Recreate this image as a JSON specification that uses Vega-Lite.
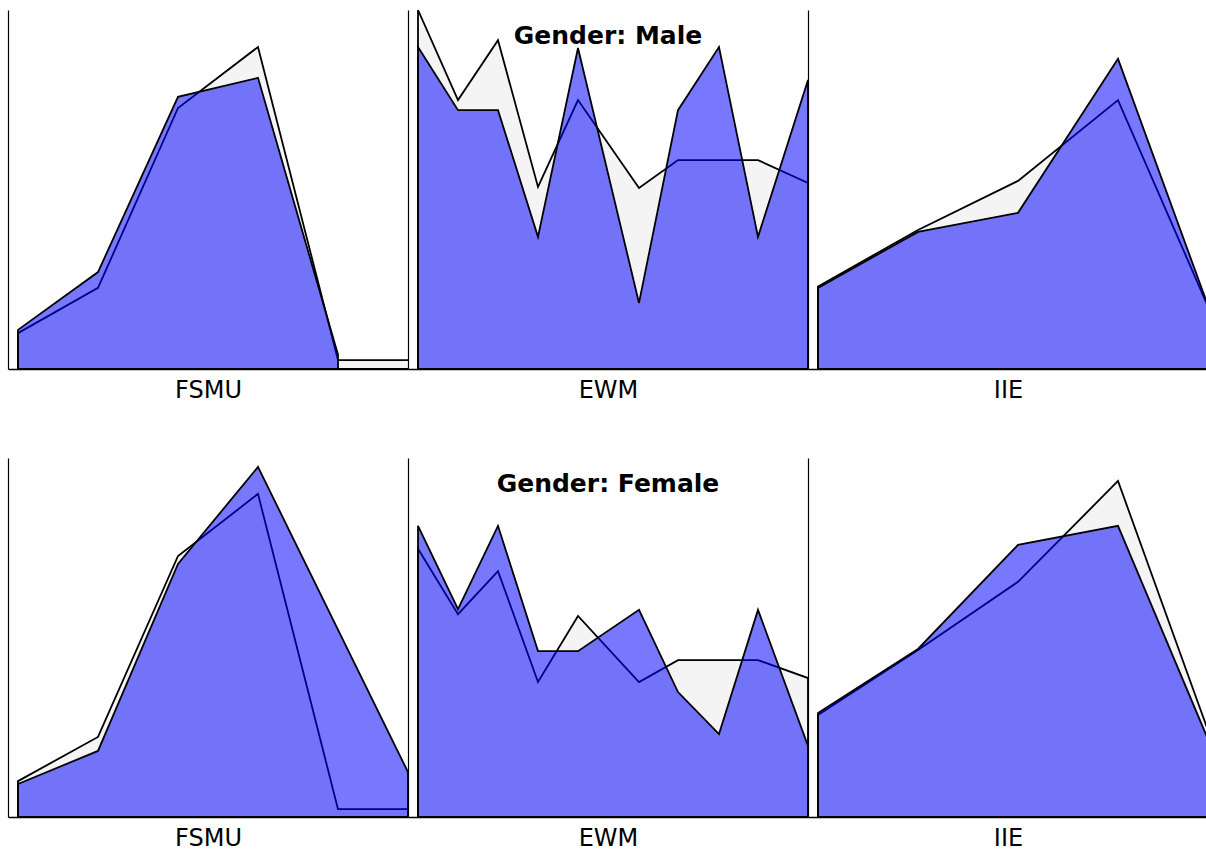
{
  "$schema": "https://vega.github.io/schema/vega-lite/v6.json",
  "background": "white",
  "padding": {"left": 8, "top": 10, "right": 0, "bottom": 0},
  "config": {
    "view": {"stroke": null},
    "font": "DejaVu Sans",
    "axisX": {"domain": true, "domainColor": "#000", "domainWidth": 1.5, "ticks": false, "labels": false, "grid": false, "titleFont": "DejaVu Sans", "titleFontSize": 24, "titleFontWeight": "normal", "titleColor": "#000", "titlePadding": 9},
    "axisY": {"domain": true, "domainColor": "#000", "domainWidth": 1.2, "ticks": false, "labels": false, "grid": false},
    "title": {"font": "DejaVu Sans", "fontSize": 25, "fontWeight": "bold", "color": "#000", "anchor": "middle", "offset": -39, "baseline": "alphabetic"}
  },
  "datasets": {
    "d": [
      {"gender": "Male", "scale": "FSMU", "series": "All", "score": 1, "pct": 10.0},
      {"gender": "Male", "scale": "FSMU", "series": "All", "score": 2, "pct": 22.6},
      {"gender": "Male", "scale": "FSMU", "series": "All", "score": 3, "pct": 72.7},
      {"gender": "Male", "scale": "FSMU", "series": "All", "score": 4, "pct": 89.7},
      {"gender": "Male", "scale": "FSMU", "series": "All", "score": 5, "pct": 2.5},
      {"gender": "Male", "scale": "FSMU", "series": "All", "score": 6, "pct": 2.5},
      {"gender": "Male", "scale": "FSMU", "series": "Group", "score": 1, "pct": 10.9},
      {"gender": "Male", "scale": "FSMU", "series": "Group", "score": 2, "pct": 27.0},
      {"gender": "Male", "scale": "FSMU", "series": "Group", "score": 3, "pct": 75.8},
      {"gender": "Male", "scale": "FSMU", "series": "Group", "score": 4, "pct": 81.1},
      {"gender": "Male", "scale": "FSMU", "series": "Group", "score": 5, "pct": 4.0},

      {"gender": "Male", "scale": "EWM", "series": "All", "score": 1, "pct": 100},
      {"gender": "Male", "scale": "EWM", "series": "All", "score": 2, "pct": 74.9},
      {"gender": "Male", "scale": "EWM", "series": "All", "score": 3, "pct": 91.6},
      {"gender": "Male", "scale": "EWM", "series": "All", "score": 4, "pct": 50.7},
      {"gender": "Male", "scale": "EWM", "series": "All", "score": 5, "pct": 74.9},
      {"gender": "Male", "scale": "EWM", "series": "All", "score": 6.525, "pct": 50.4},
      {"gender": "Male", "scale": "EWM", "series": "All", "score": 7.5, "pct": 58.2},
      {"gender": "Male", "scale": "EWM", "series": "All", "score": 8.525, "pct": 58.2},
      {"gender": "Male", "scale": "EWM", "series": "All", "score": 9.5, "pct": 58.2},
      {"gender": "Male", "scale": "EWM", "series": "All", "score": 10.75, "pct": 51.8},
      {"gender": "Male", "scale": "EWM", "series": "Group", "score": 1, "pct": 89.7},
      {"gender": "Male", "scale": "EWM", "series": "Group", "score": 2, "pct": 72.1},
      {"gender": "Male", "scale": "EWM", "series": "Group", "score": 3, "pct": 72.1},
      {"gender": "Male", "scale": "EWM", "series": "Group", "score": 4, "pct": 36.8},
      {"gender": "Male", "scale": "EWM", "series": "Group", "score": 5, "pct": 89.4},
      {"gender": "Male", "scale": "EWM", "series": "Group", "score": 6.525, "pct": 18.4},
      {"gender": "Male", "scale": "EWM", "series": "Group", "score": 7.5, "pct": 72.1},
      {"gender": "Male", "scale": "EWM", "series": "Group", "score": 8.525, "pct": 89.7},
      {"gender": "Male", "scale": "EWM", "series": "Group", "score": 9.5, "pct": 36.8},
      {"gender": "Male", "scale": "EWM", "series": "Group", "score": 10.75, "pct": 80.5},

      {"gender": "Male", "scale": "IIE", "series": "All", "score": 1, "pct": 23.0},
      {"gender": "Male", "scale": "IIE", "series": "All", "score": 2, "pct": 38.7},
      {"gender": "Male", "scale": "IIE", "series": "All", "score": 3, "pct": 52.4},
      {"gender": "Male", "scale": "IIE", "series": "All", "score": 4, "pct": 74.9},
      {"gender": "Male", "scale": "IIE", "series": "All", "score": 5, "pct": 11.0},
      {"gender": "Male", "scale": "IIE", "series": "Group", "score": 1, "pct": 22.6},
      {"gender": "Male", "scale": "IIE", "series": "Group", "score": 2, "pct": 38.2},
      {"gender": "Male", "scale": "IIE", "series": "Group", "score": 3, "pct": 43.5},
      {"gender": "Male", "scale": "IIE", "series": "Group", "score": 4, "pct": 86.4},
      {"gender": "Male", "scale": "IIE", "series": "Group", "score": 5, "pct": 10.0},

      {"gender": "Female", "scale": "FSMU", "series": "All", "score": 1, "pct": 10.0},
      {"gender": "Female", "scale": "FSMU", "series": "All", "score": 2, "pct": 22.3},
      {"gender": "Female", "scale": "FSMU", "series": "All", "score": 3, "pct": 72.7},
      {"gender": "Female", "scale": "FSMU", "series": "All", "score": 4, "pct": 90.0},
      {"gender": "Female", "scale": "FSMU", "series": "All", "score": 5, "pct": 2.2},
      {"gender": "Female", "scale": "FSMU", "series": "All", "score": 6, "pct": 2.2},
      {"gender": "Female", "scale": "FSMU", "series": "Group", "score": 1, "pct": 9.2},
      {"gender": "Female", "scale": "FSMU", "series": "Group", "score": 2, "pct": 18.4},
      {"gender": "Female", "scale": "FSMU", "series": "Group", "score": 3, "pct": 70.5},
      {"gender": "Female", "scale": "FSMU", "series": "Group", "score": 4, "pct": 97.5},
      {"gender": "Female", "scale": "FSMU", "series": "Group", "score": 5.875, "pct": 12.5},

      {"gender": "Female", "scale": "EWM", "series": "All", "score": 1, "pct": 74.7},
      {"gender": "Female", "scale": "EWM", "series": "All", "score": 2, "pct": 56.5},
      {"gender": "Female", "scale": "EWM", "series": "All", "score": 3, "pct": 68.5},
      {"gender": "Female", "scale": "EWM", "series": "All", "score": 4, "pct": 37.6},
      {"gender": "Female", "scale": "EWM", "series": "All", "score": 5, "pct": 56.0},
      {"gender": "Female", "scale": "EWM", "series": "All", "score": 6.525, "pct": 37.6},
      {"gender": "Female", "scale": "EWM", "series": "All", "score": 7.5, "pct": 43.7},
      {"gender": "Female", "scale": "EWM", "series": "All", "score": 8.525, "pct": 43.7},
      {"gender": "Female", "scale": "EWM", "series": "All", "score": 9.5, "pct": 43.7},
      {"gender": "Female", "scale": "EWM", "series": "All", "score": 10.75, "pct": 38.7},
      {"gender": "Female", "scale": "EWM", "series": "Group", "score": 1, "pct": 81.1},
      {"gender": "Female", "scale": "EWM", "series": "Group", "score": 2, "pct": 57.9},
      {"gender": "Female", "scale": "EWM", "series": "Group", "score": 3, "pct": 81.1},
      {"gender": "Female", "scale": "EWM", "series": "Group", "score": 4, "pct": 46.2},
      {"gender": "Female", "scale": "EWM", "series": "Group", "score": 5, "pct": 46.2},
      {"gender": "Female", "scale": "EWM", "series": "Group", "score": 6.525, "pct": 57.7},
      {"gender": "Female", "scale": "EWM", "series": "Group", "score": 7.5, "pct": 34.8},
      {"gender": "Female", "scale": "EWM", "series": "Group", "score": 8.525, "pct": 23.1},
      {"gender": "Female", "scale": "EWM", "series": "Group", "score": 9.5, "pct": 57.7},
      {"gender": "Female", "scale": "EWM", "series": "Group", "score": 10.75, "pct": 19.8},

      {"gender": "Female", "scale": "IIE", "series": "All", "score": 1, "pct": 28.4},
      {"gender": "Female", "scale": "IIE", "series": "All", "score": 2, "pct": 46.5},
      {"gender": "Female", "scale": "IIE", "series": "All", "score": 3, "pct": 65.5},
      {"gender": "Female", "scale": "IIE", "series": "All", "score": 4, "pct": 93.6},
      {"gender": "Female", "scale": "IIE", "series": "All", "score": 5, "pct": 16.4},
      {"gender": "Female", "scale": "IIE", "series": "Group", "score": 1, "pct": 29.0},
      {"gender": "Female", "scale": "IIE", "series": "Group", "score": 2, "pct": 46.8},
      {"gender": "Female", "scale": "IIE", "series": "Group", "score": 3, "pct": 75.8},
      {"gender": "Female", "scale": "IIE", "series": "Group", "score": 4, "pct": 81.1},
      {"gender": "Female", "scale": "IIE", "series": "Group", "score": 5, "pct": 15.0}
    ],
    "band": [{"part": "header"}]
  },
  "spacing": 56,
  "resolve": {"scale": {"x": "independent", "y": "independent"}},
  "vconcat": [
    {
      "title": {"text": "Gender: Male"},
      "spacing": 0,
      "resolve": {"scale": {"x": "independent", "y": "independent"}},
      "hconcat": [
        {
          "width": 400, "height": 359,
          "data": {"name": "d"},
          "transform": [{"filter": "datum.gender == 'Male' && datum.scale == 'FSMU'"}],
          "encoding": {
            "x": {"field": "score", "type": "quantitative", "scale": {"domain": [0.875, 5.875], "nice": false, "zero": false}, "axis": {"title": "FSMU"}},
            "y": {"field": "pct", "type": "quantitative", "stack": null, "scale": {"domain": [0, 100], "nice": false}, "axis": {"title": null}}
          },
          "layer": [
            {"transform": [{"filter": "datum.series == 'All'"}], "mark": {"type": "area", "clip": true, "fill": "#f4f4f4", "stroke": "#000", "strokeWidth": 1.8}},
            {"transform": [{"filter": "datum.series == 'Group'"}], "mark": {"type": "area", "clip": true, "fill": "#0000ff", "fillOpacity": 0.53, "stroke": "#000", "strokeWidth": 1.8}},
            {"data": {"name": "band"}, "mark": {"type": "rect", "fill": "#e0e0e0", "opacity": 0.25}, "encoding": {"x": {"datum": 0.875}, "x2": {"datum": 5.875}, "y": {"datum": 87.5}, "y2": {"datum": 100}}}
          ]
        },
        {
          "width": 400, "height": 359,
          "data": {"name": "d"},
          "transform": [{"filter": "datum.gender == 'Male' && datum.scale == 'EWM'"}],
          "encoding": {
            "x": {"field": "score", "type": "quantitative", "scale": {"domain": [0.75, 10.75], "nice": false, "zero": false}, "axis": {"title": "EWM"}},
            "y": {"field": "pct", "type": "quantitative", "stack": null, "scale": {"domain": [0, 100], "nice": false}, "axis": {"title": null}}
          },
          "layer": [
            {"transform": [{"filter": "datum.series == 'All'"}], "mark": {"type": "area", "clip": true, "fill": "#f4f4f4", "stroke": "#000", "strokeWidth": 1.8}},
            {"transform": [{"filter": "datum.series == 'Group'"}], "mark": {"type": "area", "clip": true, "fill": "#0000ff", "fillOpacity": 0.53, "stroke": "#000", "strokeWidth": 1.8}},
            {"data": {"name": "band"}, "mark": {"type": "rect", "fill": "#e0e0e0", "opacity": 0.25}, "encoding": {"x": {"datum": 0.75}, "x2": {"datum": 10.75}, "y": {"datum": 87.5}, "y2": {"datum": 100}}}
          ]
        },
        {
          "width": 400, "height": 359,
          "data": {"name": "d"},
          "transform": [{"filter": "datum.gender == 'Male' && datum.scale == 'IIE'"}],
          "encoding": {
            "x": {"field": "score", "type": "quantitative", "scale": {"domain": [0.9, 4.9], "nice": false, "zero": false}, "axis": {"title": "IIE"}},
            "y": {"field": "pct", "type": "quantitative", "stack": null, "scale": {"domain": [0, 100], "nice": false}, "axis": {"title": null}}
          },
          "layer": [
            {"transform": [{"filter": "datum.series == 'All'"}], "mark": {"type": "area", "clip": true, "fill": "#f4f4f4", "stroke": "#000", "strokeWidth": 1.8}},
            {"transform": [{"filter": "datum.series == 'Group'"}], "mark": {"type": "area", "clip": true, "fill": "#0000ff", "fillOpacity": 0.53, "stroke": "#000", "strokeWidth": 1.8}},
            {"data": {"name": "band"}, "mark": {"type": "rect", "fill": "#e0e0e0", "opacity": 0.25}, "encoding": {"x": {"datum": 0.9}, "x2": {"datum": 4.9}, "y": {"datum": 87.5}, "y2": {"datum": 100}}}
          ]
        }
      ]
    },
    {
      "title": {"text": "Gender: Female"},
      "spacing": 0,
      "resolve": {"scale": {"x": "independent", "y": "independent"}},
      "hconcat": [
        {
          "width": 400, "height": 359,
          "data": {"name": "d"},
          "transform": [{"filter": "datum.gender == 'Female' && datum.scale == 'FSMU'"}],
          "encoding": {
            "x": {"field": "score", "type": "quantitative", "scale": {"domain": [0.875, 5.875], "nice": false, "zero": false}, "axis": {"title": "FSMU"}},
            "y": {"field": "pct", "type": "quantitative", "stack": null, "scale": {"domain": [0, 100], "nice": false}, "axis": {"title": null}}
          },
          "layer": [
            {"transform": [{"filter": "datum.series == 'All'"}], "mark": {"type": "area", "clip": true, "fill": "#f4f4f4", "stroke": "#000", "strokeWidth": 1.8}},
            {"transform": [{"filter": "datum.series == 'Group'"}], "mark": {"type": "area", "clip": true, "fill": "#0000ff", "fillOpacity": 0.53, "stroke": "#000", "strokeWidth": 1.8}},
            {"data": {"name": "band"}, "mark": {"type": "rect", "fill": "#e0e0e0", "opacity": 0.25}, "encoding": {"x": {"datum": 0.875}, "x2": {"datum": 5.875}, "y": {"datum": 87.5}, "y2": {"datum": 100}}}
          ]
        },
        {
          "width": 400, "height": 359,
          "data": {"name": "d"},
          "transform": [{"filter": "datum.gender == 'Female' && datum.scale == 'EWM'"}],
          "encoding": {
            "x": {"field": "score", "type": "quantitative", "scale": {"domain": [0.75, 10.75], "nice": false, "zero": false}, "axis": {"title": "EWM"}},
            "y": {"field": "pct", "type": "quantitative", "stack": null, "scale": {"domain": [0, 100], "nice": false}, "axis": {"title": null}}
          },
          "layer": [
            {"transform": [{"filter": "datum.series == 'All'"}], "mark": {"type": "area", "clip": true, "fill": "#f4f4f4", "stroke": "#000", "strokeWidth": 1.8}},
            {"transform": [{"filter": "datum.series == 'Group'"}], "mark": {"type": "area", "clip": true, "fill": "#0000ff", "fillOpacity": 0.53, "stroke": "#000", "strokeWidth": 1.8}},
            {"data": {"name": "band"}, "mark": {"type": "rect", "fill": "#e0e0e0", "opacity": 0.25}, "encoding": {"x": {"datum": 0.75}, "x2": {"datum": 10.75}, "y": {"datum": 87.5}, "y2": {"datum": 100}}}
          ]
        },
        {
          "width": 400, "height": 359,
          "data": {"name": "d"},
          "transform": [{"filter": "datum.gender == 'Female' && datum.scale == 'IIE'"}],
          "encoding": {
            "x": {"field": "score", "type": "quantitative", "scale": {"domain": [0.9, 4.9], "nice": false, "zero": false}, "axis": {"title": "IIE"}},
            "y": {"field": "pct", "type": "quantitative", "stack": null, "scale": {"domain": [0, 100], "nice": false}, "axis": {"title": null}}
          },
          "layer": [
            {"transform": [{"filter": "datum.series == 'All'"}], "mark": {"type": "area", "clip": true, "fill": "#f4f4f4", "stroke": "#000", "strokeWidth": 1.8}},
            {"transform": [{"filter": "datum.series == 'Group'"}], "mark": {"type": "area", "clip": true, "fill": "#0000ff", "fillOpacity": 0.53, "stroke": "#000", "strokeWidth": 1.8}},
            {"data": {"name": "band"}, "mark": {"type": "rect", "fill": "#e0e0e0", "opacity": 0.25}, "encoding": {"x": {"datum": 0.9}, "x2": {"datum": 4.9}, "y": {"datum": 87.5}, "y2": {"datum": 100}}}
          ]
        }
      ]
    }
  ]
}
